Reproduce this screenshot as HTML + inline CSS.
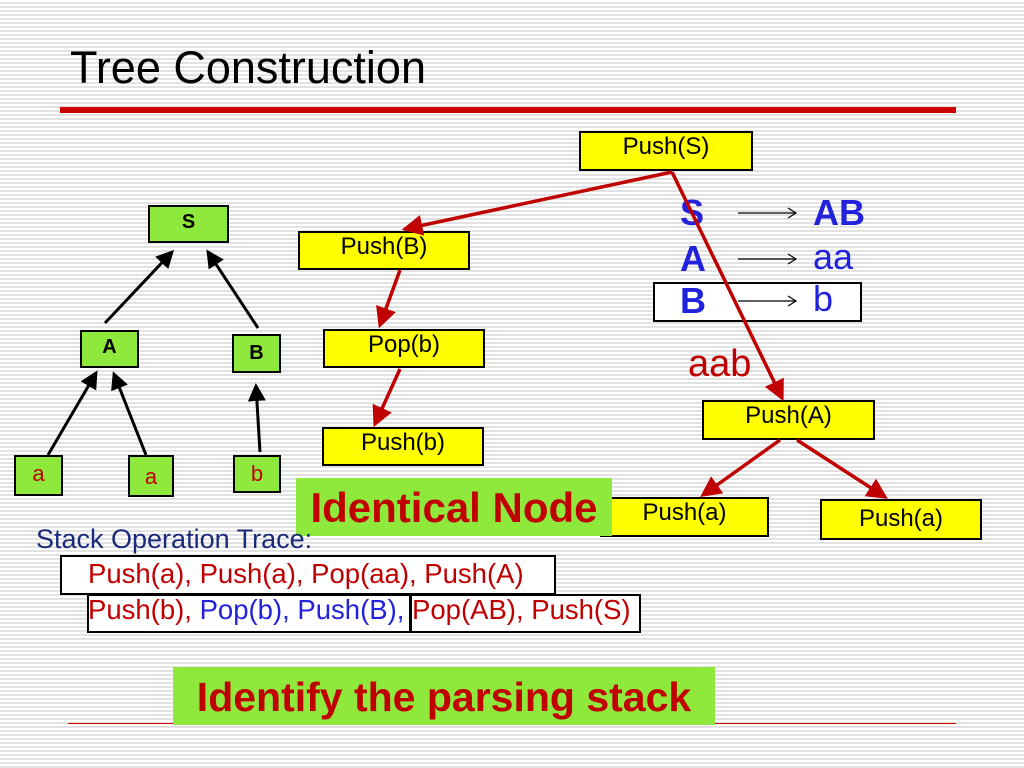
<!DOCTYPE html>
<html><head><meta charset="utf-8"><style>
body{margin:0;width:1024px;height:768px;overflow:hidden;position:relative;font-family:"Liberation Sans",sans-serif;
background:repeating-linear-gradient(180deg,#fff 0px,#fff 2px,#e2e2e2 2px,#e2e2e2 4px);}
.b{position:absolute;box-sizing:border-box;border:2px solid #000;text-align:center;}
.y{background:#ffff00;font-size:24px;line-height:28px;}
.g{background:#8fe83c;font-size:22px;}
.t{position:absolute;white-space:nowrap;}
</style></head><body>
<div class="t" style="left:70px;top:42px;font-size:45px;">Tree Construction</div>
<div style="position:absolute;left:60px;top:107px;width:896px;height:6px;background:#cc0000"></div>
<div style="position:absolute;left:68px;top:723px;width:888px;height:1px;background:#cc0000"></div>
<div class="b y" style="left:579px;top:131px;width:174px;height:40px">Push(S)</div>
<div class="b y" style="left:298px;top:231px;width:172px;height:39px">Push(B)</div>
<div class="b y" style="left:323px;top:329px;width:162px;height:39px">Pop(b)</div>
<div class="b y" style="left:322px;top:427px;width:162px;height:39px">Push(b)</div>
<div class="b y" style="left:702px;top:400px;width:173px;height:40px">Push(A)</div>
<div class="b y" style="left:600px;top:497px;width:169px;height:40px">Push(a)</div>
<div class="b y" style="left:820px;top:499px;width:162px;height:41px;line-height:36px">Push(a)</div>
<div class="b g" style="left:148px;top:205px;width:81px;height:38px;font-weight:bold;font-size:20px;line-height:30px">S</div>
<div class="b g" style="left:80px;top:330px;width:59px;height:38px;font-weight:bold;font-size:20px;line-height:30px">A</div>
<div class="b g" style="left:232px;top:334px;width:49px;height:39px;font-weight:bold;font-size:20px;line-height:34px">B</div>
<div class="b g" style="left:14px;top:455px;width:49px;height:41px;color:#c00000;line-height:34px">a</div>
<div class="b g" style="left:128px;top:455px;width:46px;height:42px;color:#c00000;line-height:40px">a</div>
<div class="b g" style="left:233px;top:455px;width:48px;height:38px;color:#c00000;line-height:34px">b</div>
<div class="b" style="left:653px;top:282px;width:209px;height:40px;background:#fff"></div>
<div class="t" style="left:680px;top:192px;font-size:36px;font-weight:bold;color:#2222dd">S</div>
<div class="t" style="left:680px;top:238px;font-size:36px;font-weight:bold;color:#2222dd">A</div>
<div class="t" style="left:680px;top:280px;font-size:36px;font-weight:bold;color:#2222dd">B</div>
<div class="t" style="left:813px;top:192px;font-size:36px;font-weight:bold;color:#2222dd">AB</div>
<div class="t" style="left:813px;top:236px;font-size:36px;color:#2222dd">aa</div>
<div class="t" style="left:813px;top:278px;font-size:36px;color:#2222dd">b</div>
<div class="t" style="left:688px;top:343px;font-size:38px;color:#c00000">aab</div>
<svg width="1024" height="768" style="position:absolute;left:0;top:0">
<defs>
<marker id="r" markerWidth="6" markerHeight="6" refX="5" refY="3" orient="auto" markerUnits="strokeWidth"><path d="M0,0L6,3L0,6z" fill="#c00000"/></marker>
<marker id="k" markerWidth="6" markerHeight="6" refX="5" refY="3" orient="auto" markerUnits="strokeWidth"><path d="M0,0L6,3L0,6z" fill="#000"/></marker>
</defs>
<g stroke="#c00000" stroke-width="3.5" marker-end="url(#r)">
<line x1="672" y1="172" x2="405" y2="229"/>
<line x1="672" y1="172" x2="782" y2="398"/>
<line x1="400" y1="270" x2="380" y2="325"/>
<line x1="400" y1="369" x2="375" y2="424"/>
<line x1="780" y1="440" x2="703" y2="495"/>
<line x1="797" y1="440" x2="885" y2="497"/>
</g>
<g stroke="#000" stroke-width="3" marker-end="url(#k)">
<line x1="105" y1="323" x2="172" y2="252"/>
<line x1="258" y1="328" x2="208" y2="252"/>
<line x1="48" y1="455" x2="96" y2="373"/>
<line x1="146" y1="455" x2="114" y2="374"/>
<line x1="260" y1="452" x2="256" y2="386"/>
</g>
<g stroke="#000" stroke-width="1.2" fill="none">
<line x1="738" y1="213" x2="796" y2="213"/><path d="M788,208L796,213L788,218"/>
<line x1="738" y1="259" x2="796" y2="259"/><path d="M788,254L796,259L788,264"/>
<line x1="738" y1="301" x2="796" y2="301"/><path d="M788,296L796,301L788,306"/>
</g>
</svg>
<div class="t" style="left:296px;top:478px;width:316px;height:58px;background:#8fe83c;color:#c00000;font-weight:bold;font-size:42px;line-height:60px;text-align:center">Identical Node</div>
<div class="t" style="left:36px;top:524px;font-size:27px;color:#1a2a7a">Stack Operation Trace:</div>
<div class="b" style="left:60px;top:555px;width:496px;height:40px;background:#fff"></div>
<div class="t" style="left:88px;top:558px;font-size:27.5px;color:#c00000">Push(a), Push(a), Pop(aa), Push(A)</div>
<div class="b" style="left:87px;top:594px;width:324px;height:39px;background:#fff"></div>
<div class="b" style="left:410px;top:594px;width:231px;height:39px;background:#fff"></div>
<div class="t" style="left:88px;top:594px;font-size:27.5px;color:#c00000">Push(b), <span style="color:#2222dd">Pop(b), Push(B),</span> Pop(AB), Push(S)</div>
<div class="t" style="left:173px;top:667px;width:542px;height:58px;background:#8fe83c;color:#c00000;font-weight:bold;font-size:41px;line-height:60px;text-align:center">Identify the parsing stack</div>
</body></html>
